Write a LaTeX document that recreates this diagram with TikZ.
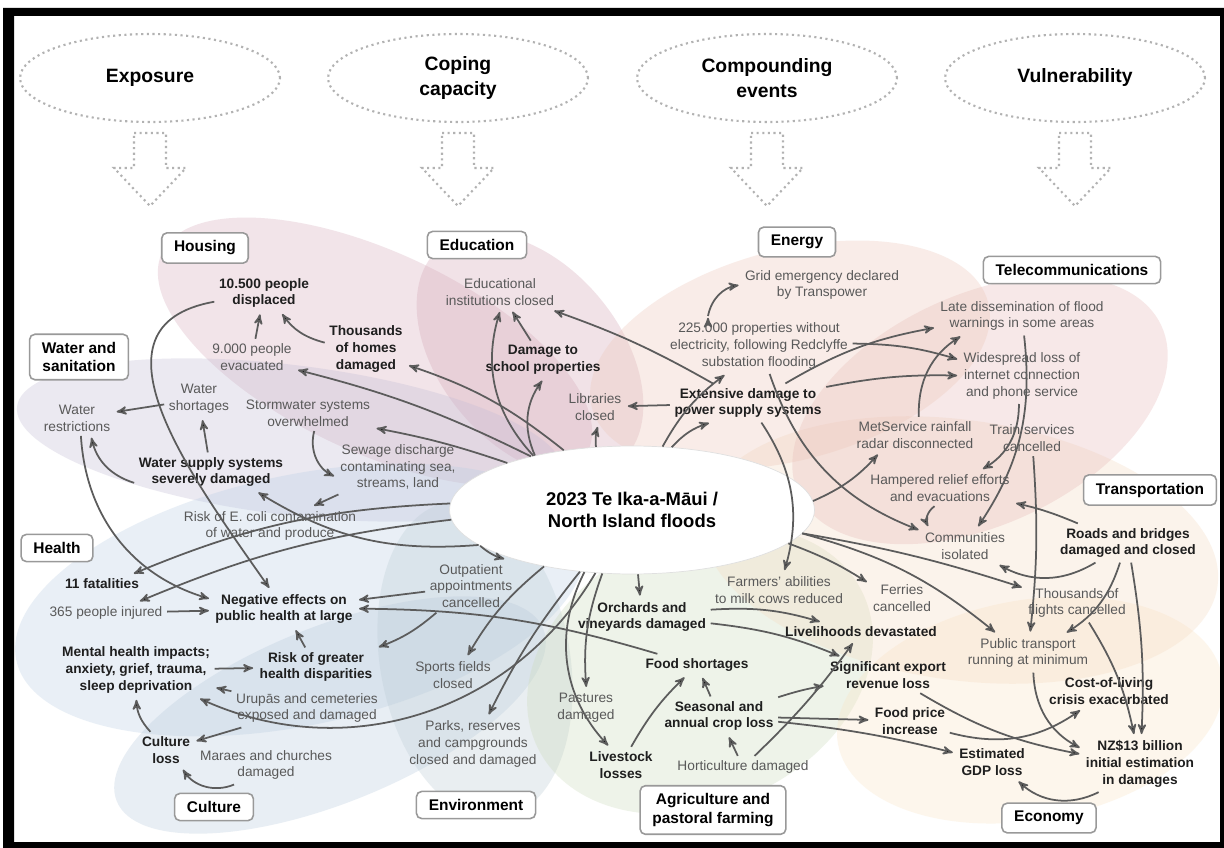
\documentclass[tikz,border=0pt]{standalone}
\usepackage{fontspec}
\setmainfont{Liberation Sans}
\usepackage{tikz}
\usetikzlibrary{arrows,shapes.geometric}

\definecolor{houseC}{HTML}{D7ADBD}
\definecolor{waterC}{HTML}{C3BDD5}
\definecolor{healthC}{HTML}{BBCFE5}
\definecolor{cultC}{HTML}{B9CBDD}
\definecolor{envC}{HTML}{BDCDD5}
\definecolor{agriC}{HTML}{CDDBBB}
\definecolor{econC}{HTML}{F9E5C5}
\definecolor{transC}{HTML}{F5DBC1}
\definecolor{teleC}{HTML}{E7B9B9}
\definecolor{energyC}{HTML}{EDC7B9}
\definecolor{eduC}{HTML}{D5A7B7}
\definecolor{linkC}{HTML}{5C5C5C}

\tikzset{
	sector/.style={draw=black!40,line width=0.9pt,rounded corners=3pt,fill=white,align=center,inner xsep=7pt,inner ysep=4.5pt,font=\fontsize{8.8}{10.4}\selectfont\bfseries},
	impact/.style={align=center,inner sep=2.5pt,text=black!65,font=\fontsize{7.8}{9.6}\selectfont},
	major/.style={align=center,inner sep=2.5pt,text=black!88,font=\fontsize{7.8}{9.6}\selectfont\bfseries},
	driver/.style={ellipse,draw=black!30,dotted,line width=1.2pt,minimum width=5.2cm,minimum height=1.76cm,align=center,font=\fontsize{11}{14}\selectfont\bfseries},
	hollow/.style={draw=black!30,dotted,line width=1.2pt},
	petal/.style={fill opacity=0.32},
	link/.style={draw=linkC,line width=1pt}
}

\begin{document}
\begin{tikzpicture}[x=0.02cm,y=-0.02cm,>=stealth',shorten >=1pt]
	\useasboundingbox (0,0) rectangle (1224,848);
	\fill[white] (0,0) rectangle (1224,848);

	\fill[petal,fill=houseC,rotate around={-25:(375,352)}] (375,352) ellipse [x radius=235,y radius=100];
	\fill[petal,fill=eduC,rotate around={-50:(530,355)}] (530,355) ellipse [x radius=140,y radius=90];
	\fill[petal,fill=waterC,rotate around={-7:(290,440)}] (290,440) ellipse [x radius=275,y radius=75];
	\fill[petal,fill=healthC,rotate around={12:(300,600)}] (300,600) ellipse [x radius=290,y radius=125];
	\fill[petal,fill=cultC,rotate around={22:(330,715)}] (330,715) ellipse [x radius=230,y radius=88];
	\fill[petal,fill=envC,rotate around={10:(475,660)}] (475,660) ellipse [x radius=95,y radius=160];
	\fill[petal,fill=agriC,rotate around={25:(700,670)}] (700,670) ellipse [x radius=180,y radius=135];
	\fill[petal,fill=econC,rotate around={10:(1030,710)}] (1030,710) ellipse [x radius=195,y radius=110];
	\fill[petal,fill=transC,rotate around={-8:(960,550)}] (960,550) ellipse [x radius=260,y radius=130];
	\fill[petal,fill=teleC,rotate around={25:(980,410)}] (980,410) ellipse [x radius=200,y radius=115];
	\fill[petal,fill=energyC,rotate around={15:(790,355)}] (790,355) ellipse [x radius=205,y radius=105];

	\fill[black,even odd rule] (3,8) rectangle (1224,848) (14,16) rectangle (1220,842);

	\node[driver] (exposure) at (150,78) {Exposure};
	\node[driver] (coping) at (458,78) {Coping\\capacity};
	\node[driver] (compounding) at (767,78) {Compounding\\events};
	\node[driver] (vulnerability) at (1075,78) {Vulnerability};
	\foreach \hx in {150,458,767,1075}
		\draw[hollow] (\hx-16,133) -- (\hx+16,133) -- (\hx+16,168) -- (\hx+36,168) -- (\hx,206) -- (\hx-36,168) -- (\hx-16,168) -- cycle;

	\node[ellipse,fill=white,draw=black!12,minimum width=7.3cm,minimum height=2.56cm,align=center,font=\fontsize{10.5}{12.5}\selectfont\bfseries] (flood) at (632,510) {2023 Te Ika-a-Māui /\\North Island floods};

	\node[sector] (housing) at (205,248) {Housing};
	\node[sector] (watsan) at (79,357) {Water and\\sanitation};
	\node[sector] (education) at (477,245) {Education};
	\node[sector] (energy) at (797,242) {Energy};
	\node[sector] (telecom) at (1072,270) {Telecommunications};
	\node[sector] (transport) at (1150,490) {Transportation};
	\node[sector] (health) at (57,548) {Health};
	\node[sector] (culture) at (214,807) {Culture};
	\node[sector] (environment) at (476,805) {Environment};
	\node[sector] (agri) at (713,810) {Agriculture and\\pastoral farming};
	\node[sector] (economy) at (1049,818) {Economy};

	\node[major] (displaced) at (264,293) {10.500 people\\displaced};
	\node[impact] (evacuated) at (252,357) {9.000 people\\evacuated};
	\node[major] (homes) at (366,349) {Thousands\\of homes\\damaged};
	\node[impact] (restrict) at (77,418) {Water\\restrictions};
	\node[impact] (shortages) at (199,399) {Water\\shortages};
	\node[impact] (stormwater) at (308,413) {Stormwater systems\\overwhelmed};
	\node[impact] (sewage) at (398,467) {Sewage discharge\\contaminating sea,\\streams, land};
	\node[major] (supply) at (211,472) {Water supply systems\\severely damaged};
	\node[impact] (ecoli) at (270,526) {Risk of E. coli contamination\\of water and produce};
	\node[major] (fatal) at (102,584) {11 fatalities};
	\node[impact] (injured) at (106,613) {365 people injured};
	\node[major] (negative) at (284,609) {Negative effects on\\public health at large};
	\node[major] (mental) at (136,670) {Mental health impacts;\\anxiety, grief, trauma,\\sleep deprivation};
	\node[major] (disparity) at (316,667) {Risk of greater\\health disparities};
	\node[impact] (outpatient) at (471,586) {Outpatient\\appointments\\cancelled};
	\node[impact] (urupa) at (307,708) {Urupās and cemeteries\\exposed and damaged};
	\node[major] (cultloss) at (166,750) {Culture\\loss};
	\node[impact] (marae) at (266,765) {Maraes and churches\\damaged};
	\node[impact] (sports) at (453,675) {Sports fields\\closed};
	\node[impact] (parks) at (473,744) {Parks, reserves\\and campgrounds\\closed and damaged};
	\node[major] (orchards) at (642,617) {Orchards and\\vineyards damaged};
	\node[impact] (farmers) at (779,590) {Farmers' abilities\\to milk cows reduced};
	\node[major] (food) at (697,665) {Food shortages};
	\node[impact] (pastures) at (586,708) {Pastures\\damaged};
	\node[major] (seasonal) at (719,716) {Seasonal and\\annual crop loss};
	\node[major] (livestock) at (621,765) {Livestock\\losses};
	\node[impact] (hort) at (743,767) {Horticulture damaged};
	\node[major] (livelihood) at (861,632) {Livelihoods devastated};
	\node[impact] (grid) at (822,285) {Grid emergency declared\\by Transpower};
	\node[impact] (props) at (759,346) {225.000 properties without\\electricity, following Redclyffe\\substation flooding};
	\coordinate (gridfoot) at (708,316);
	\node[major] (extensive) at (748,403) {Extensive damage to\\power supply systems};
	\node[impact] (libraries) at (595,407) {Libraries\\closed};
	\node[impact] (eduinst) at (500,292) {Educational\\institutions closed};
	\node[major] (school) at (543,360) {Damage to\\school properties};
	\node[impact] (late) at (1022,316) {Late dissemination of flood\\warnings in some areas};
	\node[impact] (internet) at (1022,376) {Widespread loss of\\internet connection\\and phone service};
	\node[impact] (metservice) at (915,435) {MetService rainfall\\radar disconnected};
	\node[impact] (train) at (1032,438) {Train services\\cancelled};
	\node[impact] (hampered) at (940,488) {Hampered relief efforts\\and evacuations};
	\node[impact] (communities) at (965,546) {Communities\\isolated};
	\node[major] (roads) at (1128,543) {Roads and bridges\\damaged and closed};
	\node[impact] (ferries) at (902,598) {Ferries\\cancelled};
	\node[impact] (flights) at (1077,603) {Thousands of\\flights cancelled};
	\node[impact] (pubtrans) at (1028,653) {Public transport\\running at minimum};
	\node[major] (export) at (888,675) {Significant export\\revenue loss};
	\node[major] (cost) at (1109,691) {Cost-of-living\\crisis exacerbated};
	\node[major] (price) at (910,721) {Food price\\increase};
	\node[major] (gdp) at (992,762) {Estimated\\GDP loss};
	\node[major] (nzd) at (1140,764) {NZ\$13 billion\\initial estimation\\in damages};

	\path[->,link] (flood) edge[bend right=6] (evacuated)
			edge[bend right=4] (stormwater)
			edge[bend right=10] (homes)
			edge[bend left=30] (eduinst)
			edge[bend left=30] (school)
			edge[bend left=10] (libraries)
			edge[bend left=12] (props)
			edge[bend left=15] (extensive)
			edge[bend right=12] (metservice)
			edge[bend left=6] (ferries)
			edge[bend left=4] (flights)
			edge[bend left=12] (pubtrans)
			edge[bend left=18] (supply)
			edge[bend right=10] (fatal)
			edge[bend right=8] (injured)
			edge[bend right=12] (outpatient)
			edge (orchards)
			edge[bend right=12] (pastures)
			edge[bend right=35] (livestock)
			edge[bend right=10] (sports)
			edge[bend right=6] (parks)
			edge[bend left=42] (mental);

	\path[->,link] (extensive) edge (libraries)
			edge[bend right=5] (eduinst)
			edge[bend left=10] (late)
			edge[bend left=6] (internet)
			edge[bend left=25] (farmers)
		(gridfoot) edge[bend left=35] (grid.west)
		(props) edge[bend left=8] (internet)
			edge[bend right=25] (communities)
		(school) edge (eduinst)
		(metservice) edge[bend left=30] (late)
		(late) edge[bend left=20] (communities)
		(internet) edge[bend left=30] (hampered)
		(hampered) edge[bend right=40] (communities)
		(train) edge[bend left=5] (pubtrans)
		(roads) edge[bend right=5] (hampered)
			edge[bend left=30] (communities)
			edge[bend left=20] (pubtrans)
			edge[bend left=6] (nzd)
		(flights) edge[bend left=10] (nzd)
		(pubtrans) edge[bend right=30] (nzd)
		(export) edge[bend right=10] (nzd)
		(price) edge[bend right=25] (cost)
		(nzd) edge[bend left=35] (gdp);

	\path[->,link] (seasonal) edge[bend left=4] (gdp)
			edge (price)
			edge[bend left=4] (export)
			edge (food)
		(orchards) edge[bend left=8] (export)
			edge[bend left=10] (livelihood)
		(hort) edge[bend right=5] (livelihood)
			edge (seasonal)
		(livestock) edge[bend left=8] (food)
		(food) edge[bend right=8] (negative)
		(outpatient) edge (negative)
			edge[bend left=10] (disparity);

	\path[->,link] (supply) edge[bend left=30] (restrict)
			edge (shortages)
		(shortages) edge (restrict)
		(evacuated) edge (displaced)
		(homes) edge[bend left=20] (displaced)
		(stormwater) edge[bend right=40] (sewage)
		(sewage) edge (ecoli)
		(restrict) edge[bend right=35] (negative)
		(displaced) edge[out=190,in=125,looseness=1.2] (negative)
		(injured) edge (negative)
		(disparity) edge (negative)
		(mental) edge (disparity)
		(urupa) edge (mental)
			edge (cultloss)
		(cultloss) edge[bend left=20] (mental)
		(marae) edge[bend left=40] (cultloss);
\end{tikzpicture}
\end{document}
